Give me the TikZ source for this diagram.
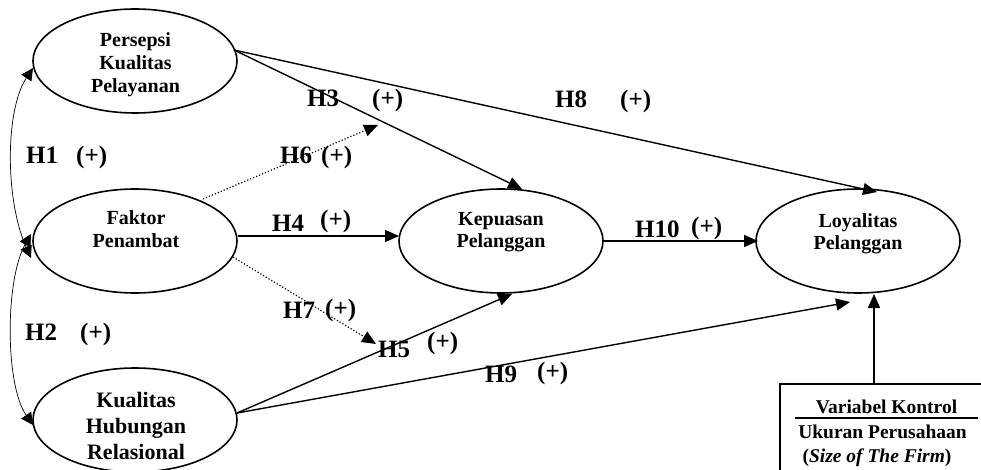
\documentclass[tikz,border=0pt]{standalone}
\usepackage{fontspec}
\setmainfont{Liberation Serif}
\usetikzlibrary{shapes.geometric,arrows.meta}
\begin{document}
\begin{tikzpicture}[x=1pt,y=-1pt,
  ell/.style={ellipse,draw,line width=1.6pt,minimum width=204pt,minimum height=104pt,inner sep=0pt},
  etxt/.style={font=\bfseries\fontsize{20}{23}\selectfont,align=center,inner sep=0pt,anchor=north},
  hl/.style={font=\bfseries\fontsize{25}{28}\selectfont,inner sep=0pt,anchor=base west},
  pl/.style={font=\bfseries\fontsize{25}{28}\selectfont,inner sep=0pt,anchor=base west},
  arr/.style={line width=1.4pt,-{Triangle[length=14pt,width=12pt]}},
  dotarr/.style={line width=1.2pt,dotted,-{Triangle[length=14pt,width=12pt]}},
  cor/.style={line width=0.7pt,{Triangle[length=12pt,width=12pt]}-{Triangle[length=12pt,width=12pt]}},
  btxt/.style={font=\bfseries\fontsize{19.5}{24}\selectfont,inner sep=0pt,anchor=base}]
\useasboundingbox (0,0) rectangle (981,470);

% ellipses
\node[ell] (p) at (135,61) {};
\node[ell] (f) at (135,241) {};
\node[ell] (k) at (135,420) {};
\node[ell] (kp) at (501,241) {};
\node[ell] (l) at (858,241) {};

\node[etxt] (pt) at (135.5,32) {Persepsi\\Kualitas\\Pelayanan};
\node[etxt] (ft) at (136,210) {Faktor\\Penambat};
\node[etxt,font=\bfseries\fontsize{22}{26}\selectfont] (kt) at (136,392) {Kualitas\\Hubungan\\Relasional};
\node[etxt,font=\bfseries\fontsize{20}{22}\selectfont] (kpt) at (501,212) {Kepuasan\\Pelanggan};
\node[etxt,font=\bfseries\fontsize{20}{22}\selectfont] (lt) at (858,213) {Loyalitas\\Pelanggan};

% control box
\node[draw,line width=1.5pt,anchor=north west,minimum width=225pt,minimum height=100pt,inner sep=0pt] (box) at (779,383) {};
\node[btxt] (vk) at (886.5,413) {Variabel Kontrol};
\draw[line width=1.5pt] (795,418) -- (978,418);
\node[btxt] (uk) at (882.5,438) {Ukuran Perusahaan};
\node[btxt] (sz) at (877,462) {(\textit{Size of The Firm})};

% coordinates
\coordinate (pin) at (33,68);
\coordinate (fa) at (31,258);
\coordinate (fb) at (31,234);
\coordinate (kin) at (33,425);
\coordinate (pout) at (234,50);
\coordinate (kout) at (237,413);
\coordinate (fr) at (238,236);
\coordinate (fu) at (203,199);
\coordinate (fd) at (233,257);
\coordinate (h6) at (378,125);
\coordinate (h7) at (376,344);
\coordinate (kptop) at (522,189);
\coordinate (kpbot) at (512,294);
\coordinate (kpr) at (603,241);
\coordinate (ll) at (758,241);
\coordinate (ltop) at (877,192);
\coordinate (l9) at (850,302);
\coordinate (boxtop) at (874,383);
\coordinate (lbot) at (874,294);

% correlations
\draw[cor] (pin) .. controls (5,110) and (5,200) .. (fa);
\draw[cor] (fb) .. controls (5,280) and (5,385) .. (kin);

% paths
\draw[arr] (pout) -- (kptop);
\draw[arr] (pout) -- (ltop);
\draw[arr] (fr) -- (399,236);
\draw[dotarr] (fu) -- (h6);
\draw[dotarr] (fd) -- (h7);
\draw[arr] (kout) -- (kpbot);
\draw[arr] (kout) -- (l9);
\draw[arr] (kpr) -- (ll);
\draw[arr] (boxtop) -- (lbot);

% labels
\node[hl] (h1) at (26,164) {H1};  \node[pl] (p1) at (76,164) {(+)};
\node[hl] (h2) at (25,340) {H2};  \node[pl] (p2) at (80,340) {(+)};
\node[hl] (h3) at (307,107) {H3}; \node[pl] (p3) at (372,107) {(+)};
\node[hl] (h8) at (555,108) {H8}; \node[pl] (p8) at (620,108) {(+)};
\node[hl] (h6l) at (280,164) {H6}; \node[pl] (p6) at (321,164) {(+)};
\node[hl] (h4) at (272,232) {H4}; \node[pl] (p4) at (320,227) {(+)};
\node[hl] (h7l) at (283,318) {H7}; \node[pl] (p7) at (325,316) {(+)};
\node[hl] (h5) at (378,357) {H5}; \node[pl] (p5) at (427,349) {(+)};
\node[hl] (h9) at (485,382) {H9}; \node[pl] (p9) at (537,379) {(+)};
\node[hl] (h10) at (635,237) {H10}; \node[pl] (p10) at (691,234) {(+)};
\end{tikzpicture}
\end{document}
